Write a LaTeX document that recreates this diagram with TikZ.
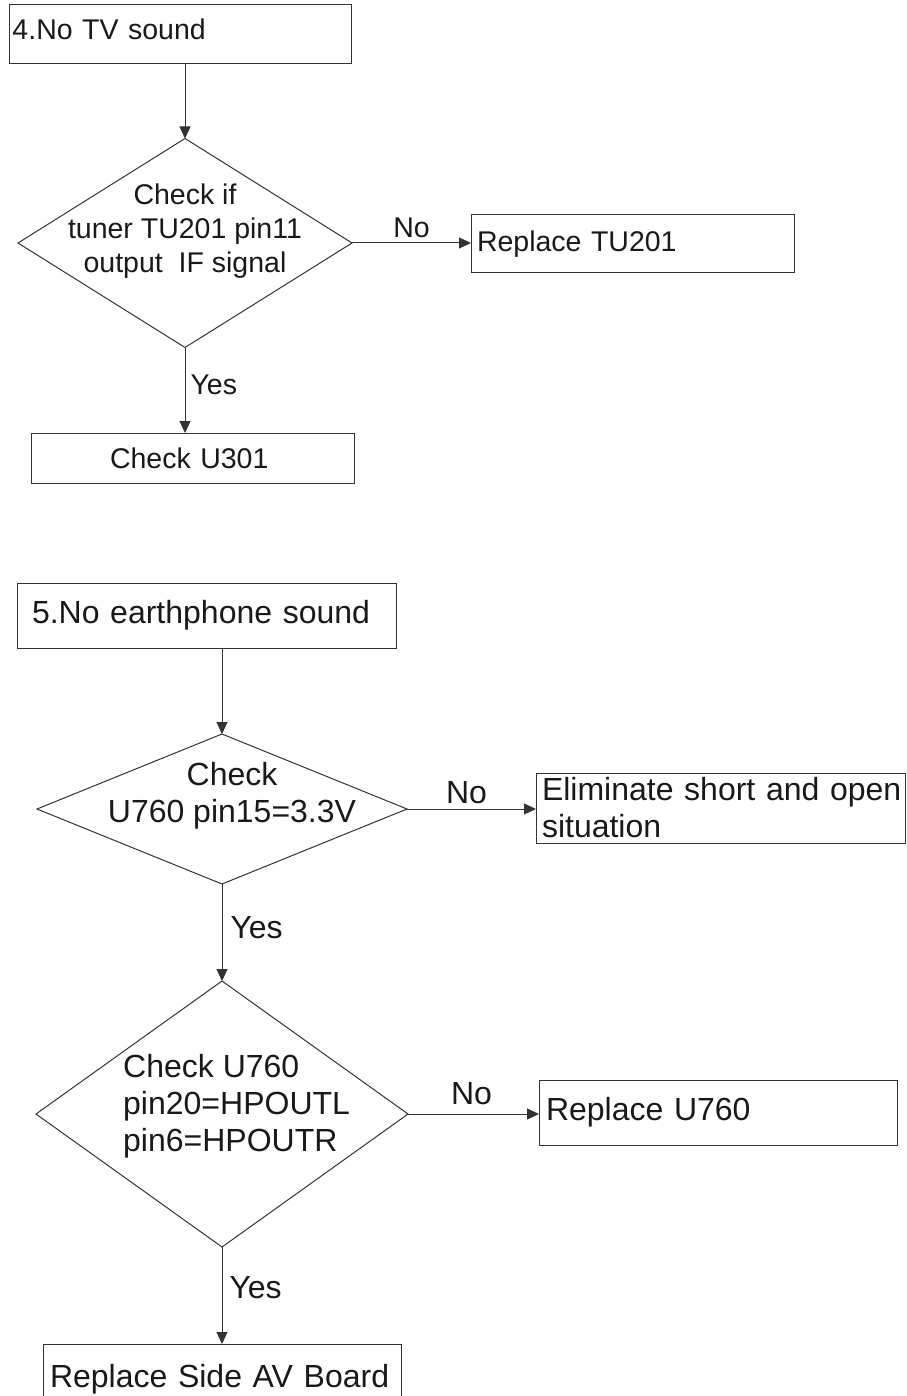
\documentclass[tikz,border=0pt]{standalone}
\usepackage{fontspec}
\setmainfont{Liberation Sans}
\usetikzlibrary{shapes.geometric,arrows.meta}
\begin{document}
\begin{tikzpicture}[x=1pt,y=-1pt,
  every node/.style={text=black!90},
  line/.style={draw=black!80, line width=1pt},
  flow/.style={line, -{Triangle[length=12pt,width=11pt]}},
  fa/.style={font=\fontsize{28.5}{34}\selectfont},
  fb/.style={font=\fontsize{32}{37}\selectfont},
  box/.style={line, rectangle, anchor=north west, inner ysep=0pt, outer sep=0pt, align=left},
  choice/.style={line, diamond, inner sep=0pt, outer sep=0pt},
  tag/.style={inner sep=0pt}
]
\useasboundingbox (0,0) rectangle (906,1396);

% ---- 4. No TV sound ----
\node[box, fa, inner xsep=3.5pt, text width=335pt, minimum height=59pt, text depth=9.8pt] (b1) at (9,5) {4.No TV sound};
\node[choice, minimum width=334pt, minimum height=209pt] (d1) at (185,243) {};
\node[tag, fa, align=center] (t1) at (185,231) {Check if\\tuner TU201 pin11\\output\ \ IF signal};
\node[box, fa, inner xsep=6pt, text width=311pt, minimum height=58pt] (b2) at (471,215) {Replace TU201};
\node[box, fa, inner xsep=79pt, text width=165pt, minimum height=50pt] (b3) at (31,433) {Check U301};

\draw[flow] (d1.north |- b1.south) -- (d1.north);
\draw[flow] (d1.east) -- node[tag, fa, above=5pt] {No} (d1.east -| b2.west);
\draw[flow] (d1.south) -- node[tag, fa, right=5pt, pos=0.435] {Yes} (d1.south |- b3.north);

% ---- 5. No earthphone sound ----
\node[box, fb, inner xsep=15pt, text width=349pt, minimum height=65pt] (b4) at (17,583) {5.No earthphone sound};
\node[choice, minimum width=370pt, minimum height=150pt] (d2) at (222,809) {};
\node[tag, fb, align=center] (t2) at (232,796) {Check\\U760 pin15=3.3V};
\node[box, fb, inner xsep=6pt, text width=357pt, minimum height=70pt] (b5) at (536,773) {Eliminate~short~and~open\\situation};
\node[choice, minimum width=372pt, minimum height=266pt] (d3) at (222,1114) {};
\node[tag, fb, align=left, anchor=west] (t3) at (123,1106) {Check U760\\pin20=HPOUTL\\pin6=HPOUTR};
\node[box, fb, inner xsep=7pt, text width=344pt, minimum height=65pt] (b6) at (539,1080) {Replace U760};
\node[box, fb, inner xsep=7pt, text width=344pt, minimum height=70pt] (b7) at (43,1344) {Replace Side AV Board};

\draw[flow] (d2.north |- b4.south) -- (d2.north);
\draw[flow] (d2.east) -- node[tag, fb, above=5pt, xshift=-5pt] {No} (d2.east -| b5.west);
\draw[flow] (d2.south) -- node[tag, fb, right=8pt, pos=0.45] {Yes} (d3.north);
\draw[flow] (d3.east) -- node[tag, fb, above=9pt, xshift=-2pt] {No} (d3.east -| b6.west);
\draw[flow] (d3.south) -- node[tag, fb, right=7pt, pos=0.42] {Yes} (d3.south |- b7.north);
\end{tikzpicture}
\end{document}
